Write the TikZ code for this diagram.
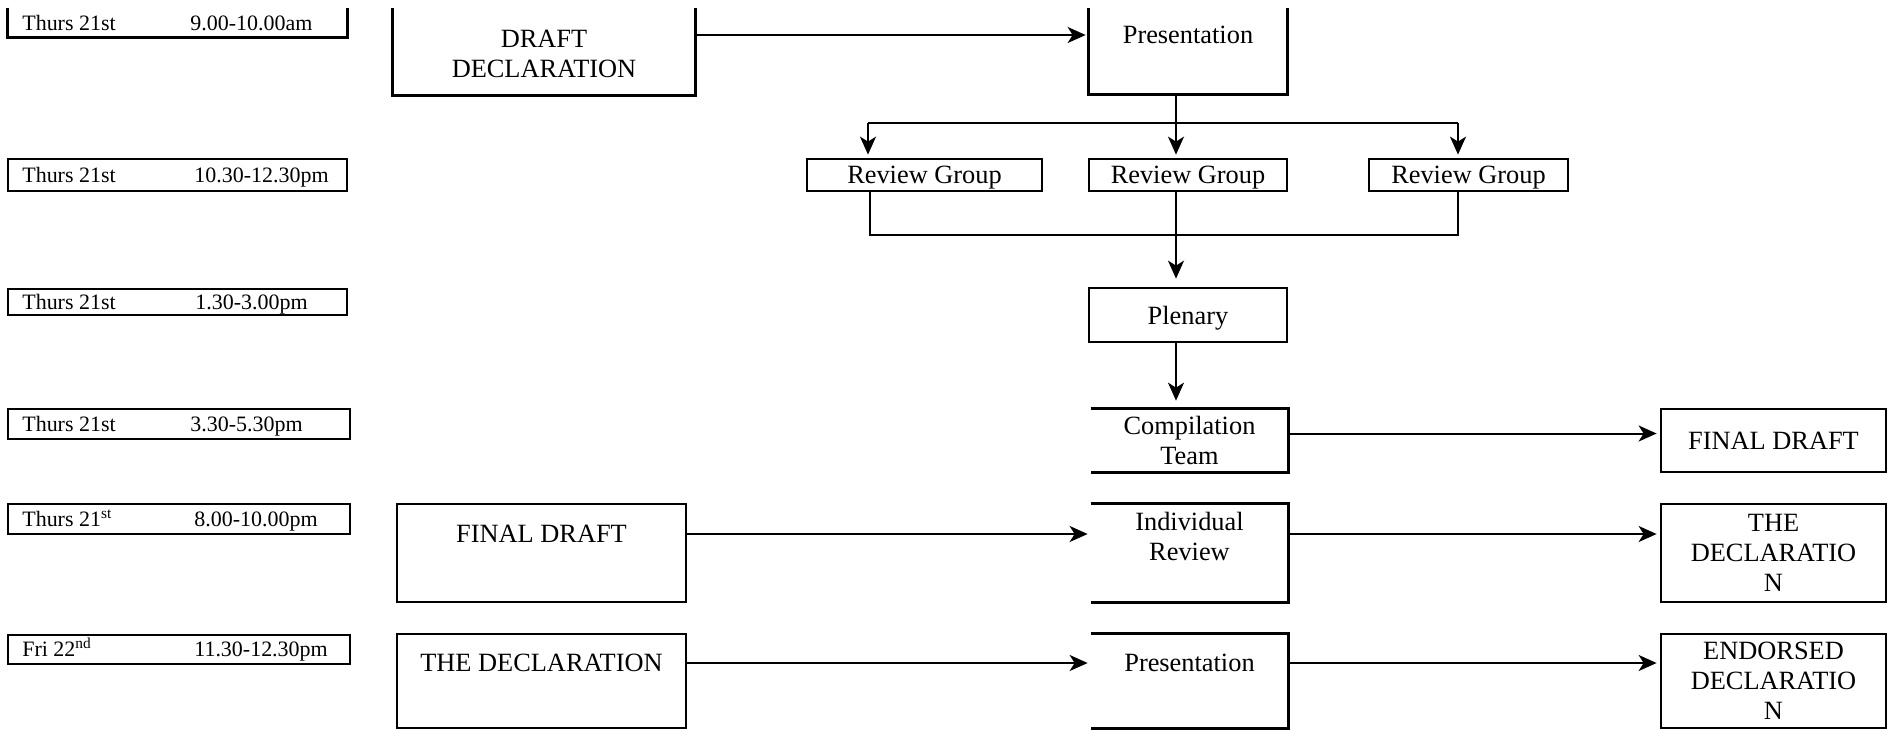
\documentclass[tikz,border=0pt]{standalone}
\usepackage{fontspec}
\setmainfont{Liberation Serif}
\usetikzlibrary{arrows.meta}

\tikzset{
  frame/.style={draw,line width=0.55mm,inner sep=0pt},
  hollow/.style={inner sep=0pt},
  edge/.style={line width=0.55mm},
  bar/.style={line width=0.4mm},
  link/.style={line width=0.4mm,-{Stealth[length=3.6mm,width=3.2mm,inset=1mm]},shorten >=0.6mm},
  big/.style={font=\fontsize{15}{17}\selectfont,align=center,inner sep=0pt},
  small/.style={font=\fontsize{12.5}{14}\selectfont,inner sep=0pt,anchor=base west},
}

\begin{document}
\begin{tikzpicture}[x=0.2mm,y=-0.2mm]
\useasboundingbox (0,0) rectangle (1891,735);

% time slots
\node[hollow,minimum width=67.8mm,minimum height=5.8mm] (t1) at (177.5,22.5) {};
\node[frame,minimum width=67.8mm,minimum height=6.4mm] (t2) at (177.5,175) {};
\node[frame,minimum width=67.8mm,minimum height=5.2mm] (t3) at (177.5,302) {};
\node[frame,minimum width=68.4mm,minimum height=6mm] (t4) at (179,424) {};
\node[frame,minimum width=68.4mm,minimum height=6mm] (t5) at (179,519) {};
\node[frame,minimum width=68.4mm,minimum height=5.8mm] (t6) at (179,649.5) {};
\draw[edge] (t1.north west) -- (t1.south west) -- (t1.south east) -- (t1.north east);

\node[small] (day1) at (22,30) {Thurs 21st};
\node[small] (hour1) at (190,30) {9.00-10.00am};
\node[small] (day2) at (22,182) {Thurs 21st};
\node[small] (hour2) at (194,182) {10.30-12.30pm};
\node[small] (day3) at (22,309) {Thurs 21st};
\node[small] (hour3) at (195,309) {1.30-3.00pm};
\node[small] (day4) at (22,431) {Thurs 21st};
\node[small] (hour4) at (190,431) {3.30-5.30pm};
\node[small] (day5) at (22,526) {Thurs 21\textsuperscript{st}};
\node[small] (hour5) at (194,526) {8.00-10.00pm};
\node[small] (day6) at (22,656) {Fri 22\textsuperscript{nd}};
\node[small] (hour6) at (194,656) {11.30-12.30pm};

% left column
\node[hollow,minimum width=60.4mm,minimum height=17.4mm] (draft) at (544,51.5) {};
\draw[edge] (draft.north west) -- (draft.south west) -- (draft.south east) -- (draft.north east);
\node[big] (drafttxt) at (544,54) {DRAFT\\DECLARATION};
\node[frame,minimum width=57.8mm,minimum height=19.6mm] (fd1) at (541.5,553) {};
\node[big] (fd1txt) at (541.5,534) {FINAL DRAFT};
\node[frame,minimum width=57.8mm,minimum height=18.8mm] (decl1) at (541.5,681) {};
\node[big] (decl1txt) at (541.5,663) {THE DECLARATION};

% centre column
\node[hollow,minimum width=39.6mm,minimum height=17.2mm] (pres1) at (1188,51) {};
\draw[edge] (pres1.north west) -- (pres1.south west) -- (pres1.south east) -- (pres1.north east);
\node[big] (pres1txt) at (1188,35) {Presentation};
\node[frame,big,text depth=0pt,minimum width=47mm,minimum height=6.4mm] (rg1) at (924.5,175) {Review Group};
\node[frame,big,text depth=0pt,minimum width=39.6mm,minimum height=6.4mm] (rg2) at (1188,175) {Review Group};
\node[frame,big,text depth=0pt,minimum width=39.8mm,minimum height=6.4mm] (rg3) at (1468.5,175) {Review Group};
\node[frame,big,text depth=0pt,minimum width=39.6mm,minimum height=10.8mm] (plenary) at (1188,315) {Plenary};
\node[hollow,big,minimum width=39.4mm,minimum height=12.6mm] (comp) at (1189.5,440.5) {Compilation\\Team};
\draw[edge] (comp.north west) -- (comp.north east) -- (comp.south east) -- (comp.south west);
\node[hollow,minimum width=39.4mm,minimum height=19.6mm] (indiv) at (1189.5,553) {};
\draw[edge] (indiv.north west) -- (indiv.north east) -- (indiv.south east) -- (indiv.south west);
\node[big] (indivtxt) at (1189.5,536.5) {Individual\\Review};
\node[hollow,minimum width=39.4mm,minimum height=18.8mm] (pres2) at (1189.5,681) {};
\draw[edge] (pres2.north west) -- (pres2.north east) -- (pres2.south east) -- (pres2.south west);
\node[big] (pres2txt) at (1189.5,663) {Presentation};

% right column
\node[frame,big,minimum width=45mm,minimum height=12.6mm] (fd2) at (1773.5,440.5) {FINAL DRAFT};
\node[frame,big,minimum width=45mm,minimum height=19.6mm] (decl2) at (1773.5,553) {THE\\DECLARATIO\\N};
\node[frame,big,minimum width=45mm,minimum height=18.8mm] (endorsed) at (1773.5,681) {ENDORSED\\DECLARATIO\\N};

% fan out to the review groups
\coordinate (fanL) at (868,123);
\coordinate (fanM) at (1176,123);
\coordinate (fanR) at (1458,123);
\draw[bar] (pres1.south -| fanM) -- (fanM);
\draw[bar] (fanL) -- (fanR);
\draw[link] (fanL) -- (rg1.north -| fanL);
\draw[link] (fanM) -- (rg2.north -| fanM);
\draw[link] (fanR) -- (rg3.north -| fanR);

% gather into the plenary
\coordinate (joinL) at (870,235);
\coordinate (joinM) at (1176,235);
\coordinate (joinR) at (1458,235);
\draw[bar] (rg1.south -| joinL) -- (joinL) -- (joinR) -- (rg3.south -| joinR);
\draw[link,shorten >=1.6mm] (rg2.south -| joinM) -- (plenary.north -| joinM);
\draw[link,shorten >=1.6mm] (plenary.south -| joinM) -- (comp.north -| joinM);

% across the rows
\draw[link] (draft.east |- pres1txt) -- (pres1.west |- pres1txt);
\draw[link] ([yshift=1.4mm]comp.east) -- ([yshift=1.4mm]fd2.west);
\draw[link] (fd1.east |- fd1txt) -- (indiv.west |- fd1txt);
\draw[link] (indiv.east |- fd1txt) -- (decl2.west |- fd1txt);
\draw[link] (decl1.east |- decl1txt) -- (pres2.west |- decl1txt);
\draw[link] (pres2.east |- decl1txt) -- (endorsed.west |- decl1txt);
\end{tikzpicture}
\end{document}
